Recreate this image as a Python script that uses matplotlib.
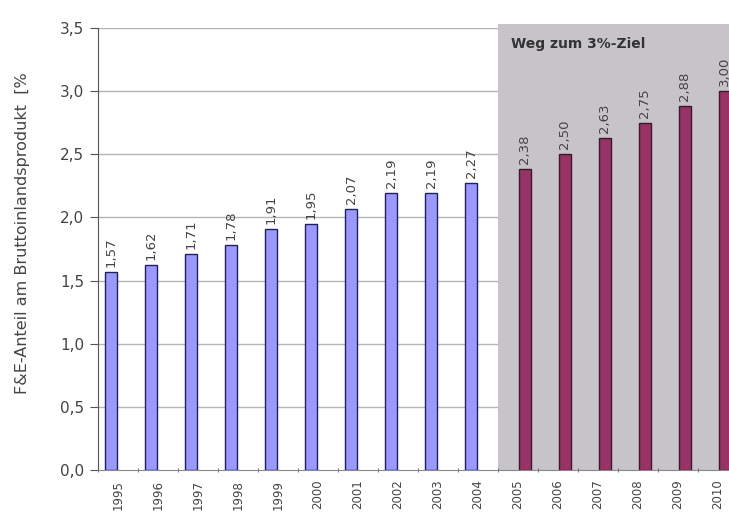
import matplotlib
matplotlib.use('agg')
import matplotlib.pyplot as plt
from matplotlib.patches import Rectangle
import numpy as np

# Daten
jahre = [str(j) for j in range(1995, 2011)]
ist_werte = [1.57, 1.62, 1.71, 1.78, 1.91, 1.95, 2.07, 2.19, 2.19, 2.27]
ziel_werte = [2.38, 2.50, 2.63, 2.75, 2.88, 3.00]
y_ticks = [0.0, 0.5, 1.0, 1.5, 2.0, 2.5, 3.0, 3.5]

plt.rcParams['font.family'] = ['DejaVu Sans']

def komma(v):
    return "{:.2f}".format(v).replace('.', ',')

fig = plt.figure(figsize=(7.29, 5.2), dpi=100)
ax = fig.add_axes([98/729, 50/520, 640/729, 442/520])

x_ist = np.arange(len(ist_werte))
x_ziel = np.arange(len(ist_werte), len(jahre))

# grauer Bereich "Weg zum 3%-Ziel"
ax.add_patch(Rectangle((len(ist_werte) - 0.5, 0), 7, 3.535, facecolor='#c6c4c8',
                       edgecolor='none', zorder=1, clip_on=False))

for y in y_ticks[1:]:
    ax.axhline(y, color='#b4b4b4', lw=1, zorder=0.5)

b = 0.3
ax.bar(x_ist - 0.17, ist_werte, width=b, color='#9999ff', edgecolor='#202060', lw=1, zorder=2)
ax.bar(x_ziel + 0.17, ziel_werte, width=b, color='#993366', edgecolor='#3a1a28', lw=1, zorder=2)

for x, v in zip(x_ist - 0.17, ist_werte):
    ax.text(x, v + 0.04, komma(v), rotation=90, ha='center', va='bottom',
            fontsize=9.5, color='#444444', zorder=3)
for x, v in zip(x_ziel + 0.17, ziel_werte):
    ax.text(x, v + 0.04, komma(v), rotation=90, ha='center', va='bottom',
            fontsize=9.5, color='#444444', zorder=3, clip_on=False)

ax.text(len(ist_werte) - 0.18, 3.37, "Weg zum 3%-Ziel", fontsize=10, fontweight='bold',
        color='#333333', va='center', ha='left', zorder=3)

ax.set_xlim(-0.5, len(jahre) - 0.5)
ax.set_ylim(0, 3.5)
ax.set_yticks(y_ticks)
ax.set_yticklabels([("%.1f" % t).replace('.', ',') for t in y_ticks], fontsize=11, color='#444444')
ax.set_xticks(np.arange(len(jahre)))
ax.set_xticklabels(jahre, rotation=90, fontsize=8.5, color='#444444')
ax.tick_params(axis='x', length=0, pad=7)
ax.set_xticks(np.arange(len(jahre) + 1) - 0.5, minor=True)
ax.tick_params(axis='x', which='minor', length=3, direction='inout', color='#555555')
ax.tick_params(axis='y', length=6, direction='out', color='#555555', pad=4)

for s in ['top', 'right']:
    ax.spines[s].set_visible(False)
ax.spines['left'].set_color('#555555')
ax.spines['bottom'].set_color('#888888')
ax.set_facecolor('white')

fig.text(23/729, 1 - 233/520, "F&E-Anteil am Bruttoinlandsprodukt  [%", rotation=90,
         ha='center', va='center', fontsize=11.5, color='#444444')

fig.savefig('out.png', dpi=100)
